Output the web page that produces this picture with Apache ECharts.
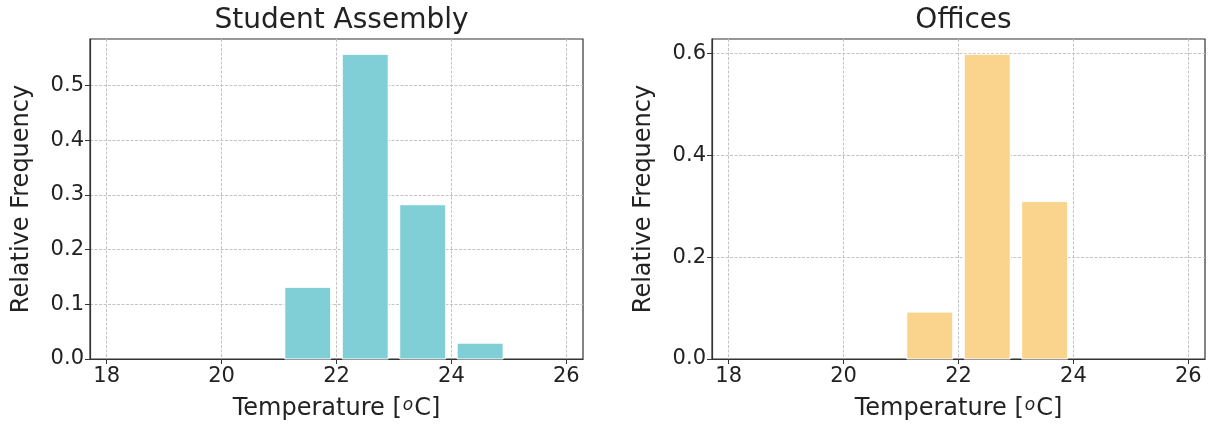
<!DOCTYPE html>
<html>
<head>
<meta charset="utf-8">
<script src="https://cdn.jsdelivr.net/npm/echarts@6/dist/echarts.min.js"></script>
<style>
html,body{margin:0;padding:0;background:#fff;}
#c{width:1211px;height:427px;}
</style>
</head>
<body>
<div id="c"></div>
<script>
// ---- data ----
const binCenters = [18.5, 19.5, 20.5, 21.5, 22.5, 23.5, 24.5, 25.5];
const assemblyFreq = [0, 0, 0, 0.131, 0.557, 0.282, 0.029, 0];
const officesFreq = [0, 0, 0, 0.092, 0.598, 0.309, 0, 0];
const xTicks = [18, 20, 22, 24, 26];
const yTicksAssembly = [0, 0.1, 0.2, 0.3, 0.4, 0.5];
const yTicksOffices = [0, 0.2, 0.4, 0.6];
const titles = ['Student Assembly', 'Offices'];

const FONT = 'DejaVu Sans';
const BAR_W = 0.8;
const gridLeft = [90, 712];
const gridTop = 39, gridW = 493, gridH = 320;

function barSeries(idx, values, color) {
  return {
    type: 'custom',
    xAxisIndex: idx, yAxisIndex: idx,
    data: binCenters.map((c, i) => [c, values[i]]),
    renderItem: function (params, api) {
      const c = api.value(0), v = api.value(1);
      if (!v) return null;
      const p0 = api.coord([c - BAR_W / 2, v]);
      const p1 = api.coord([c + BAR_W / 2, 0]);
      return {
        type: 'rect',
        shape: { x: p0[0], y: p0[1], width: p1[0] - p0[0], height: p1[1] - p0[1] },
        style: { fill: color, stroke: '#ffffff', lineWidth: 1 }
      };
    },
    z: 2
  };
}

const splitLineStyle = { show: true, lineStyle: { color: '#c4c4c4', width: 1, type: [3, 1.5] } };
const labelStyle = { color: '#222', fontFamily: FONT, fontSize: 21 };

function xAxis(idx) {
  return {
    type: 'value', gridIndex: idx, min: 17.71, max: 26.29,
    name: 'Temperature [{sup|o}C]', nameLocation: 'middle', nameGap: 38,
    nameTextStyle: { color: '#222', fontFamily: FONT, fontSize: 24,
      rich: { sup: { fontSize: 17, fontFamily: FONT, color: '#222', fontStyle: 'italic', verticalAlign: 'top', padding: [0, 1, 0, 1] } } },
    axisLine: { show: true, onZero: false, lineStyle: { color: '#333', width: 1.2 } },
    axisTick: { show: true, length: 5, customValues: xTicks, lineStyle: { color: '#333' } },
    axisLabel: Object.assign({ margin: 7, customValues: xTicks, formatter: v => String(v) }, labelStyle),
    splitLine: splitLineStyle
  };
}
function yAxis(idx, max, ticks) {
  return {
    type: 'value', gridIndex: idx, min: 0, max: max,
    name: 'Relative Frequency', nameLocation: 'middle', nameGap: 56,
    nameTextStyle: { color: '#222', fontFamily: FONT, fontSize: 24 },
    axisLine: { show: true, lineStyle: { color: '#333', width: 1.2 } },
    axisTick: { show: true, length: 5, customValues: ticks, lineStyle: { color: '#333' } },
    axisLabel: Object.assign({ margin: 6, customValues: ticks, formatter: v => v.toFixed(1) }, labelStyle),
    splitLine: splitLineStyle
  };
}

const chart = echarts.init(document.getElementById('c'), null, { renderer: 'canvas' });
chart.setOption({
  animation: false,
  backgroundColor: '#ffffff',
  title: titles.map((t, i) => ({
    text: t, left: gridLeft[i] + gridW / 2, top: 2, textAlign: 'center',
    textStyle: { fontFamily: FONT, fontSize: 28, fontWeight: 'normal', color: '#222' }
  })),
  grid: gridLeft.map(l => ({
    left: l, top: gridTop, width: gridW, height: gridH,
    show: true, borderColor: '#333', borderWidth: 1.2, backgroundColor: 'transparent'
  })),
  xAxis: [xAxis(0), xAxis(1)],
  yAxis: [yAxis(0, 0.585, yTicksAssembly), yAxis(1, 0.628, yTicksOffices)],
  series: [
    barSeries(0, assemblyFreq, '#80ced6'),
    barSeries(1, officesFreq, '#fad38c')
  ]
});
</script>
</body>
</html>
